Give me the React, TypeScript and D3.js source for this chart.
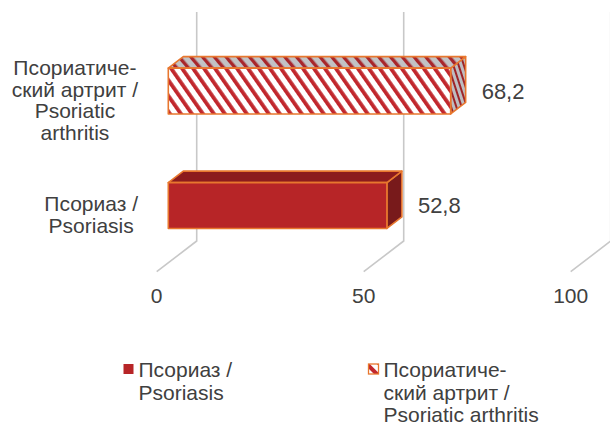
import React from 'react';
import * as d3 from 'd3';

// series in Excel order (first one is drawn at the bottom)
const categories = ['Псориаз / Psoriasis', 'Псориатический артрит / Psoriatic arthritis'];
const categoryLines = [
    ['Псориаз /', 'Psoriasis'],
    ['Псориатиче-', 'ский артрит /', 'Psoriatic', 'arthritis'],
];
const values = [52.8, 68.2];
const xTicks = [0, 50, 100];
const legendLines = [
    ['Псориаз /', 'Psoriasis'],
    ['Псориатиче-', 'ский артрит /', 'Psoriatic arthritis'],
];

const W = 610;
const H = 426;
const FONT = '"Liberation Sans", Arial, sans-serif';
const TEXT = '#404040';
const GRID = '#c8c8c8';
const OUTLINE = '#e8772e';
const depth = { dx: 40, dy: -30.7 }; // full floor depth, in screen px
const barDepth = [0.29, 0.665];
const wallTop = 12;
const floorFront = 271.7;

const faces = [
    { front: '#b72527', top: '#8c1b1d', side: '#781a1b' },
    { front: 'url(#hatchFront)', top: 'url(#hatchTop)', side: 'url(#hatchSide)' },
];

let ctx: CanvasRenderingContext2D | null = null;
const textW = (s: string, size: number) => {
    if (!ctx) ctx = document.createElement('canvas').getContext('2d');
    if (!ctx) return s.length * size * 0.5;
    ctx.font = `${size}px ${FONT}`;
    return ctx.measureText(s).width;
};

const fmt = (v: number) => d3.format('.1f')(v).replace('.', ',');

export default function App() {
    const x = d3.scaleLinear().domain([0, 100]).range([156.7, 570.7]);
    const y = d3.scaleBand<string>()
        .domain([...categories].reverse())
        .range([wallTop - depth.dy, floorFront])
        .paddingInner(0.6)
        .paddingOuter(0.3);
    const proj = (xv: number, yv: number, d: number): [number, number] =>
        [xv + d * depth.dx, yv + d * depth.dy];
    const path = (pts: [number, number][]) => d3.line()(pts) + 'Z';

    const catSize = 21;
    const lh = 21.7;
    const labelRight = 138;

    return (
        <svg width={W} height={H} style={{ position: 'absolute', left: 0, top: 0, background: '#fff' }}
            fontFamily={FONT}>
            <defs>
                <pattern id="hatchFront" patternUnits="userSpaceOnUse" width={9} height={9} patternTransform="rotate(-35)">
                    <rect width={9} height={9} fill="#fff" />
                    <rect width={3.8} height={9} fill="#c1272d" />
                </pattern>
                <pattern id="hatchTop" patternUnits="userSpaceOnUse" width={9} height={9} patternTransform="rotate(-40)">
                    <rect width={9} height={9} fill="#c2c2c4" />
                    <rect width={3.4} height={9} fill="#a8262b" />
                </pattern>
                <pattern id="hatchSide" patternUnits="userSpaceOnUse" width={5} height={8} patternTransform="rotate(-18)">
                    <rect width={5} height={8} fill="#bdbdc0" />
                    <rect width={2} height={8} fill="#9e2428" />
                </pattern>
                <pattern id="hatchLegend" patternUnits="userSpaceOnUse" width={9} height={9} patternTransform="rotate(-45)">
                    <rect width={9} height={9} fill="#fff" />
                    <rect width={4} height={9} fill="#c1272d" />
                </pattern>
            </defs>

            {/* back wall + floor gridlines */}
            {xTicks.map(t => {
                const top = proj(x(t), wallTop - depth.dy, 1);
                const backBottom = proj(x(t), floorFront, 1);
                const front = proj(x(t), floorFront, 0);
                return (
                    <g key={t}>
                        <path d={d3.line()([top, backBottom, front]) || ''} fill="none" stroke={GRID} strokeWidth={1.6} />
                        <text x={front[0]} y={303} textAnchor="middle" fontSize={21} fill={TEXT}>{t}</text>
                    </g>
                );
            })}

            {/* bars */}
            {categories.map((c, i) => {
                const x0 = x(0), x1 = x(values[i]);
                const yt = y(c)!, yb = yt + y.bandwidth();
                const [d0, d1] = barDepth;
                const front = path([proj(x0, yt, d0), proj(x1, yt, d0), proj(x1, yb, d0), proj(x0, yb, d0)]);
                const top = path([proj(x0, yt, d0), proj(x0, yt, d1), proj(x1, yt, d1), proj(x1, yt, d0)]);
                const side = path([proj(x1, yt, d0), proj(x1, yt, d1), proj(x1, yb, d1), proj(x1, yb, d0)]);
                const lab = proj(x1, (yt + yb) / 2, d1);
                const frontMid = proj(x1, (yt + yb) / 2, d0);
                return (
                    <g key={c} stroke={OUTLINE} strokeWidth={1.6} strokeLinejoin="round">
                        <path d={side} fill={faces[i].side} />
                        <path d={top} fill={faces[i].top} />
                        <path d={front} fill={faces[i].front} />
                        <text x={lab[0] + 16} y={frontMid[1]} dy="0.36em" stroke="none" fontSize={22} fill={TEXT}>
                            {fmt(values[i])}
                        </text>
                    </g>
                );
            })}

            {/* category labels */}
            {categories.map((c, i) => {
                const lines = categoryLines[i];
                const maxW = d3.max(lines, s => textW(s, catSize)) || 0;
                const cx = labelRight - maxW / 2;
                const cy = y(c)! + y.bandwidth() / 2;
                const first = cy - ((lines.length - 1) / 2) * lh + catSize * 0.36;
                return (
                    <text key={c} textAnchor="middle" fontSize={catSize} fill={TEXT}>
                        {lines.map((s, j) => (
                            <tspan key={j} x={cx} y={first + j * lh}>{s}</tspan>
                        ))}
                    </text>
                );
            })}

            {/* legend */}
            {legendLines.map((lines, i) => {
                const lx = [123.5, 368.5][i];
                return (
                    <g key={i}>
                        <rect x={lx} y={364} width={10} height={10}
                            fill={i === 0 ? '#b72527' : 'url(#hatchLegend)'}
                            stroke={i === 0 ? 'none' : OUTLINE} strokeWidth={1.3} />
                        <text fontSize={catSize} fill={TEXT}>
                            {lines.map((s, j) => (
                                <tspan key={j} x={lx + 15} y={377 + j * 22.7}>{s}</tspan>
                            ))}
                        </text>
                    </g>
                );
            })}
        </svg>
    );
}
